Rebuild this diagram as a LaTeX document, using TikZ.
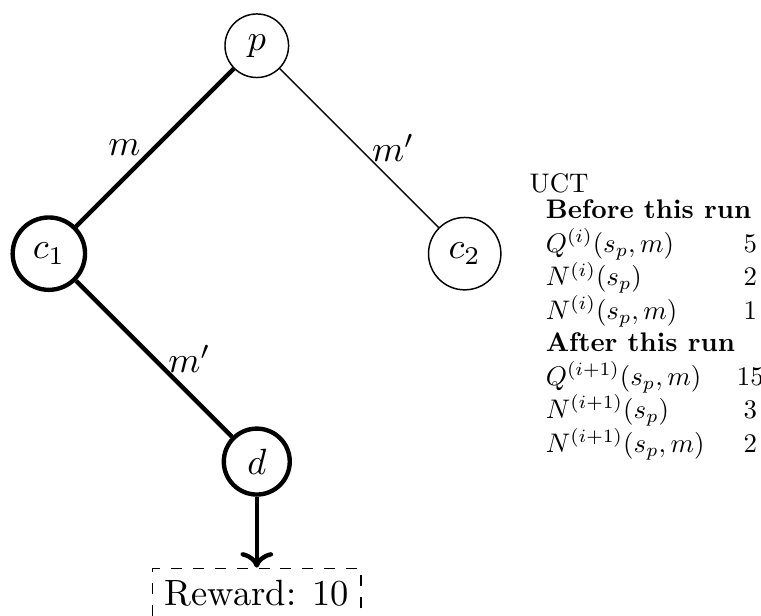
\documentclass[tikz,border=0pt]{standalone}
\usepackage{tikz}
\usetikzlibrary{arrows.meta,positioning}

\begin{document}
\begin{tikzpicture}[
  state/.style={circle,draw},
  visited/.style={state,very thick},
  walk/.style={very thick},
  arr/.style={->,very thick},
  reward/.style={draw,dashed}
]
  \useasboundingbox (-2.47,-5.48) rectangle (4.85,0.44);
  \node[state] (p) at (0,0) {$p$};
  \node[visited] (c1) at (-2,-2) {$c_1$};
  \node[state] (c2) at (2,-2) {$c_2$};
  \node[visited] (d) at (0,-4) {$d$};
  \node[reward] (rew) at (0,-5.27) {Reward: 10};
  \draw[walk] (p) -- node[left] {$m$} (c1);
  \draw (p) -- node[right] {$m'$} (c2);
  \draw[walk] (c1) -- node[right] {$m'$} (d);
  \draw[arr] (d) -- (rew);
  \node[anchor=north west,align=left,inner sep=0pt,scale=0.735] (uct) at (2.62,-1.22) {
    UCT\\[-2pt]
    \begin{tabular}[t]{lc}
      \multicolumn{2}{l}{\textbf{Before this run}}\\
      $Q^{(i)}(s_p,m)$ & 5\\
      $N^{(i)}(s_p)$ & 2\\
      $N^{(i)}(s_p,m)$ & 1\\
      \multicolumn{2}{l}{\textbf{After this run}}\\
      $Q^{(i+1)}(s_p,m)$ & 15\\
      $N^{(i+1)}(s_p)$ & 3\\
      $N^{(i+1)}(s_p,m)$ & 2
    \end{tabular}};
\end{tikzpicture}
\end{document}
